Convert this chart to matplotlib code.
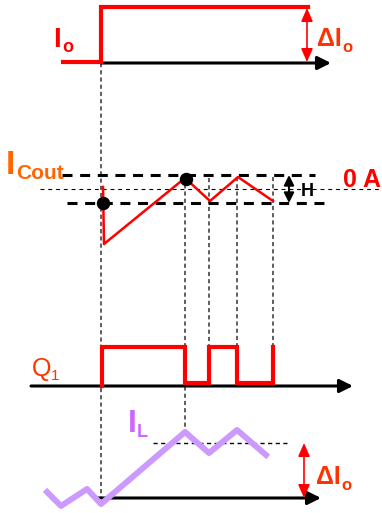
import matplotlib
matplotlib.use('Agg')
import matplotlib.pyplot as plt

plt.rcParams['font.family'] = ['Liberation Sans', 'DejaVu Sans']
plt.rcParams['lines.scale_dashes'] = False

# load step Io (time, level) - drawn in picture pixels
io_t = [63, 101, 101, 308]
io_y = [62, 62, 7, 7]

# output capacitor current ripple
icout_t = [103, 104, 185, 210, 238, 273]
icout_y = [187, 244, 178, 201, 177, 201]
dot_t = [103, 186]
dot_y = [203, 179]

# high side switch Q1
q1_t = [102, 102, 185, 185, 209, 209, 237, 237, 273, 273]
q1_y = [386, 347, 347, 383, 383, 347, 347, 383, 383, 347]

# inductor current
il_t = [47, 61, 87, 101, 185, 209, 237, 266]
il_y = [492, 506, 489, 504, 432, 453, 430, 455]

# switching instants and where their guides stop
guide_t = [101, 185, 209, 237, 273]
guide_top = [63, 177, 178, 177, 177]
guide_bot = [498, 432, 347, 347, 347]

RED = '#FF0000'
ORANGE = '#FF6600'
QRED = '#FF3300'
PURPLE = '#CC99FF'
PURPLE_TXT = '#CC66FF'

fig = plt.figure(figsize=(3.82, 5.13), dpi=100)
ax = fig.add_axes([0, 0, 1, 1])
ax.set_xlim(0, 382)
ax.set_ylim(513, 0)
ax.axis('off')


def arrow(x0, y0, x1, y1, color='black', lw=2.2, style='-|>', hl=0.8, hw=0.4):
    ax.annotate('', xy=(x1, y1), xytext=(x0, y0),
                arrowprops=dict(arrowstyle=f'{style},head_length={hl},head_width={hw}',
                                lw=lw, color=color, shrinkA=0, shrinkB=0,
                                mutation_scale=10))


# guides
for t, a, b in zip(guide_t, guide_top, guide_bot):
    ax.plot([t, t], [a, b], color='#333333', lw=1.1, dashes=(3, 2.2), zorder=1)

ax.plot([62, 315], [175, 175], color='black', lw=2.2, dashes=(7.2, 5.5), zorder=1)
ax.plot([67, 331], [203, 203], color='black', lw=2.2, dashes=(7.2, 5.5), zorder=1)
ax.plot([40, 382], [189, 189], color='black', lw=0.8, dashes=(2.8, 2.8), zorder=1)
ax.plot([153, 287], [443, 443], color='black', lw=1.0, dashes=(3, 2.5), zorder=1)

# axes
arrow(101, 63, 331, 63)
arrow(31, 386, 353, 386)
arrow(97, 498, 321, 498)

# waveforms
ax.plot(io_t, io_y, color=RED, lw=3.0, solid_joinstyle='miter', zorder=3)
ax.plot(icout_t, icout_y, color=RED, lw=1.8, zorder=3)
ax.scatter(dot_t, dot_y, s=75, color='black', zorder=4)
ax.plot(q1_t, q1_y, color=RED, lw=3.0, solid_joinstyle='miter', zorder=3)
ax.plot(il_t, il_y, color=PURPLE, lw=4.3, zorder=3)

# double arrows
arrow(307, 8, 307, 62, color=RED, lw=1.2, style='<|-|>', hl=0.8, hw=0.35)
arrow(289, 175, 289, 203, color='black', lw=1.5, style='<|-|>', hl=0.6, hw=0.3)
arrow(304, 443, 304, 498, color=RED, lw=1.2, style='<|-|>', hl=0.8, hw=0.35)

# labels
ax.text(53, 47, 'I', color=RED, fontsize=20, fontweight='bold')
ax.text(62, 52, 'o', color=RED, fontsize=13, fontweight='bold')
ax.text(317, 46, 'ΔI', color=QRED, fontsize=18, fontweight='bold')
ax.text(342, 52, 'o', color=QRED, fontsize=12, fontweight='bold')

ax.text(6, 174, 'I', color=ORANGE, fontsize=24, fontweight='bold')
ax.text(16, 179, 'Cout', color=ORANGE, fontsize=15, fontweight='bold')
ax.text(343, 187, '0 A', color=RED, fontsize=18, fontweight='bold')
ax.text(301, 196, 'H', color='black', fontsize=13, fontweight='bold')

ax.text(32, 376, 'Q', color=QRED, fontsize=18)
ax.text(51, 380, '1', color=QRED, fontsize=11)

ax.text(128, 432, 'I', color=PURPLE_TXT, fontsize=23, fontweight='bold')
ax.text(137, 437, 'L', color=PURPLE_TXT, fontsize=13, fontweight='bold')
ax.text(316, 484, 'ΔI', color=QRED, fontsize=18, fontweight='bold')
ax.text(341, 490, 'o', color=QRED, fontsize=12, fontweight='bold')

fig.savefig('out.png', dpi=100)
